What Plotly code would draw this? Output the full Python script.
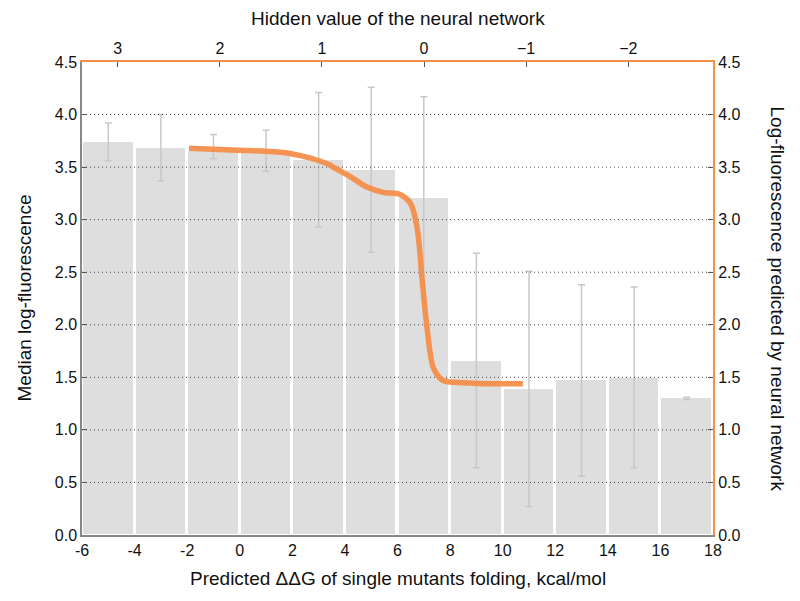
import plotly.graph_objects as go

# Bars: binned predicted ddG (bin centers), median log-fluorescence, error ranges
bin_centers = [-5, -3, -1, 1, 3, 5, 7, 9, 11, 13, 15, 17]
median_fluor = [3.74, 3.68, 3.65, 3.64, 3.57, 3.47, 3.21, 1.66, 1.39, 1.47, 1.49, 1.30]
err_upper = [3.92, 4.00, 3.81, 3.85, 4.21, 4.26, 4.17, 2.68, 2.51, 2.38, 2.36, 1.31]
err_lower = [3.56, 3.37, 3.58, 3.46, 2.93, 2.69, 2.26, 0.64, 0.27, 0.56, 0.64, 1.29]

# Neural-network prediction curve
nn_x = [-1.93, -1.0, 0.0, 1.0, 1.91, 2.29, 2.9, 3.43, 3.55, 4.2, 4.84, 5.45, 6.1,
        6.48, 6.74, 6.93, 7.12, 7.35, 7.55, 7.73, 8.0, 8.38, 9.5, 10.77]
nn_y = [3.68, 3.67, 3.66, 3.65, 3.63, 3.61, 3.57, 3.52, 3.50, 3.41, 3.31, 3.26, 3.24,
        3.16, 2.93, 2.45, 1.98, 1.60, 1.51, 1.47, 1.455, 1.45, 1.44, 1.44]

y_ticks = [0.0, 0.5, 1.0, 1.5, 2.0, 2.5, 3.0, 3.5, 4.0, 4.5]
x_ticks = [-6, -4, -2, 0, 2, 4, 6, 8, 10, 12, 14, 16, 18]
hidden_ticks = [3, 2, 1, 0, -1, -2]
hidden_labels = ["3", "2", "1", "0", "\u22121", "\u22122"]

FONT = "Liberation Sans, Arial, Helvetica, sans-serif"
ORANGE = "#f68f4a"
TICK = 16
TITLE = 19

fig = go.Figure()

fig.add_trace(go.Bar(
    x=bin_centers, y=median_fluor, width=1.92,
    marker=dict(color="#dedede", line=dict(color="white", width=1)),
    error_y=dict(type="data", symmetric=False,
                 array=[u - m for u, m in zip(err_upper, median_fluor)],
                 arrayminus=[m - l for m, l in zip(median_fluor, err_lower)],
                 color="#c8c8c8", thickness=1.5, width=3.5),
    showlegend=False, hoverinfo="skip",
))

# dotted horizontal grid drawn above bars, below curve
gx, gy = [], []
for t in y_ticks[1:-1]:
    gx += [-6, 18, None]
    gy += [t, t, None]
fig.add_trace(go.Scatter(x=gx, y=gy, mode="lines",
                         line=dict(color="#444444", width=1, dash="1px,3px"),
                         showlegend=False, hoverinfo="skip"))

fig.add_trace(go.Scatter(x=nn_x, y=nn_y, mode="lines", line_shape="spline",
                         line=dict(color=ORANGE, width=5.5), opacity=0.95,
                         showlegend=False, hoverinfo="skip"))

# dummy traces to activate secondary axes
fig.add_trace(go.Scatter(x=[0], y=[0], xaxis="x2", yaxis="y", mode="markers",
                         marker=dict(opacity=0), showlegend=False, hoverinfo="skip"))
fig.add_trace(go.Scatter(x=[0], y=[0], xaxis="x", yaxis="y2", mode="markers",
                         marker=dict(opacity=0), showlegend=False, hoverinfo="skip"))

fig.update_layout(
    width=792, height=593,
    margin=dict(l=74, r=87, t=54, b=66),
    plot_bgcolor="white", paper_bgcolor="white",
    font=dict(family=FONT, size=TICK, color="#111111"),
    bargap=0,
    xaxis=dict(range=[-6, 18], tickvals=x_ticks, ticktext=[str(v) for v in x_ticks],
               showgrid=False, zeroline=False, showline=True, linecolor="#888888",
               linewidth=1.5, ticks="", tickfont=dict(size=TICK), automargin=False),
    xaxis2=dict(overlaying="x", side="top", range=[3.35, -2.83],
                tickvals=hidden_ticks, ticktext=hidden_labels,
                showgrid=False, zeroline=False, showline=True, linecolor=ORANGE,
                linewidth=2, ticks="inside", ticklen=5, tickcolor="#555555",
                tickfont=dict(size=TICK), automargin=False),
    yaxis=dict(range=[0, 4.5], tickvals=y_ticks, ticktext=[f"{v:.1f}" for v in y_ticks],
               showgrid=False, zeroline=False, showline=True, linecolor="#888888",
               linewidth=1.5, ticks="inside", ticklen=5, tickcolor="#555555",
               tickfont=dict(size=TICK), automargin=False),
    yaxis2=dict(overlaying="y", side="right", range=[0, 4.5], tickvals=y_ticks,
                ticktext=[f"{v:.1f}" for v in y_ticks],
                showgrid=False, zeroline=False, showline=True, linecolor=ORANGE,
                linewidth=2, ticks="inside", ticklen=5, tickcolor="#555555",
                tickfont=dict(size=TICK), automargin=False),
    annotations=[
        dict(text="Log-fluorescence predicted by neural network",
             xref="paper", yref="paper", x=1.0, y=0.5, xshift=64,
             xanchor="center", yanchor="middle",
             textangle=90, showarrow=False, font=dict(size=TITLE)),
        dict(text="Median log-fluorescence",
             xref="paper", yref="paper", x=0.0, y=0.5, xshift=-58,
             xanchor="center", yanchor="middle",
             textangle=-90, showarrow=False, font=dict(size=TITLE)),
        dict(text="Predicted \u0394\u0394G of single mutants folding, kcal/mol",
             xref="paper", yref="paper", x=0.5, y=0.0, yshift=-43,
             xanchor="center", yanchor="middle",
             showarrow=False, font=dict(size=TITLE)),
        dict(text="Hidden value of the neural network",
             xref="paper", yref="paper", x=0.5, y=1.0, yshift=44,
             xanchor="center", yanchor="middle",
             showarrow=False, font=dict(size=TITLE)),
    ],
)

fig.write_html("out.html")
